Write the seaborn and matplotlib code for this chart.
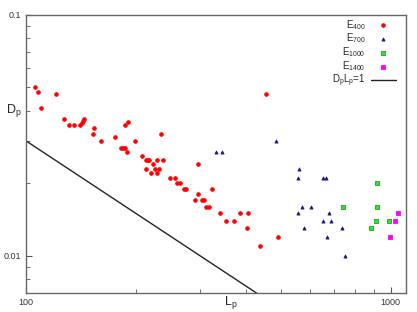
import matplotlib
matplotlib.use("Agg")
import matplotlib.pyplot as plt
import seaborn as sns
import numpy as np
import pandas as pd
from matplotlib.ticker import LogLocator, NullFormatter, FixedLocator, FixedFormatter

# ---- data ----
L_400 = [106, 108, 110, 121, 127, 131, 135, 141, 142, 143, 144, 154, 153, 161, 175,
         187, 190, 182, 185, 187, 189, 199, 208, 213, 216, 218, 223, 229, 238, 213,
         226, 232, 220, 229, 235, 297, 248, 257, 259, 265, 272, 275, 323, 297, 290,
         304, 308, 311, 317, 340, 354, 373, 387, 407, 404, 438, 490, 456]
D_400 = [0.050, 0.048, 0.041, 0.047, 0.037, 0.035, 0.035, 0.0348, 0.0355, 0.0363, 0.037, 0.034, 0.032, 0.030, 0.031,
         0.035, 0.036, 0.028, 0.028, 0.028, 0.027, 0.030, 0.026, 0.025, 0.025, 0.025, 0.024, 0.025, 0.025, 0.023,
         0.023, 0.023, 0.022, 0.022, 0.032, 0.024, 0.021, 0.021, 0.020, 0.020, 0.019, 0.019, 0.019, 0.018, 0.017,
         0.017, 0.017, 0.016, 0.016, 0.015, 0.014, 0.014, 0.015, 0.015, 0.013, 0.011, 0.012, 0.047]

L_700 = [333, 344, 485, 562, 558, 653, 667, 571, 604, 558, 676, 654, 685, 577, 737, 668, 752]
D_700 = [0.027, 0.027, 0.030, 0.023, 0.021, 0.021, 0.021, 0.016, 0.016, 0.015, 0.015, 0.014, 0.014, 0.013,
         0.013, 0.012, 0.010]

L_1000 = [917, 741, 917, 911, 989, 883]
D_1000 = [0.020, 0.016, 0.016, 0.014, 0.014, 0.013]

L_1400 = [1047, 1026, 994]
D_1400 = [0.015, 0.014, 0.012]

LINE_L = [100, 1100]
LINE_CONST = 3.0  # product D_p * L_p of the reference line

series_labels = [r"$\mathregular{E_{400}}$", r"$\mathregular{E_{700}}$",
                 r"$\mathregular{E_{1000}}$", r"$\mathregular{E_{1400}}$"]
line_label = r"$\mathregular{D_pL_p}$=1"

x_ticks = [100, 1000]
x_ticklabels = ["100", "1000"]
y_ticks = [0.01, 0.1]
y_ticklabels = ["0.01", "0.1"]

# ---- styling ----
sns.set_style("white")
plt.rcParams["font.family"] = ["Liberation Sans", "DejaVu Sans"]
plt.rcParams["mathtext.fontset"] = "custom"
plt.rcParams["mathtext.rm"] = "Liberation Sans"
plt.rcParams["mathtext.it"] = "Liberation Sans"

fig = plt.figure(figsize=(4.17, 3.12), dpi=100)
ax = fig.add_axes([26 / 417, 19 / 312, (405.7 - 26) / 417, (293 - 15) / 312])

frames = []
for L, D, lab in [(L_400, D_400, series_labels[0]), (L_700, D_700, series_labels[1]),
                  (L_1000, D_1000, series_labels[2]), (L_1400, D_1400, series_labels[3])]:
    frames.append(pd.DataFrame({"L": L, "D": D, "series": lab}))
df = pd.concat(frames, ignore_index=True)

palette = {series_labels[0]: "#ff0000", series_labels[1]: "#1c1c78",
           series_labels[2]: "#22ee22", series_labels[3]: "#ff00ff"}
markers = {series_labels[0]: "o", series_labels[1]: "^",
           series_labels[2]: "s", series_labels[3]: "s"}
sizes = {series_labels[0]: 7, series_labels[1]: 5, series_labels[2]: 10, series_labels[3]: 9}

for lab in series_labels:
    sub = df[df["series"] == lab]
    ec = "#2a9a2a" if lab == series_labels[2] else palette[lab]
    sns.scatterplot(data=sub, x="L", y="D", color=palette[lab], marker=markers[lab],
                    s=sizes[lab], edgecolor=ec, linewidth=0.6, label=lab, ax=ax, zorder=3)

line_df = pd.DataFrame({"L": LINE_L, "D": [LINE_CONST / v for v in LINE_L]})
sns.lineplot(data=line_df, x="L", y="D", color="#222222", linewidth=1.0,
             label=line_label, ax=ax, zorder=2)

ax.set_xscale("log")
ax.set_yscale("log")
ax.set_xlim(100, 1100)
ax.set_ylim(0.00700, 0.1)

ax.xaxis.set_major_locator(FixedLocator(x_ticks))
ax.xaxis.set_major_formatter(FixedFormatter(x_ticklabels))
ax.yaxis.set_major_locator(FixedLocator(y_ticks))
ax.yaxis.set_major_formatter(FixedFormatter(y_ticklabels))
ax.xaxis.set_minor_locator(LogLocator(base=10, subs=np.arange(2, 10)))
ax.yaxis.set_minor_locator(LogLocator(base=10, subs=np.arange(2, 10)))
ax.xaxis.set_minor_formatter(NullFormatter())
ax.yaxis.set_minor_formatter(NullFormatter())

ax.tick_params(axis="both", which="major", direction="in", length=4, width=0.8,
               color="#555555", labelsize=6.5, pad=3.5, labelcolor="#333333",
               bottom=True, left=True, top=False, right=False)
ax.tick_params(axis="both", which="minor", direction="in", length=3, width=0.6,
               color="#555555", bottom=True, left=True, top=False, right=False)

for sp in ax.spines.values():
    sp.set_color("#666666")
    sp.set_linewidth(1.0)

ax.set_xlabel(r"$\mathregular{L_p}$", fontsize=9)
ax.set_ylabel(r"$\mathregular{D_p}$", fontsize=9, rotation=0)
ax.xaxis.set_label_coords(0.54, -0.005)
ax.yaxis.set_label_coords(-0.032, 0.625)

leg = ax.legend(loc="upper right", bbox_to_anchor=(0.9745, 0.99), frameon=False,
                markerfirst=False, fontsize=7, handlelength=2.6, labelspacing=0.0,
                borderaxespad=0.0, borderpad=0.0, handletextpad=0.5)
for t in leg.get_texts():
    t.set_ha("right")

fig.savefig("out.png", dpi=100)
